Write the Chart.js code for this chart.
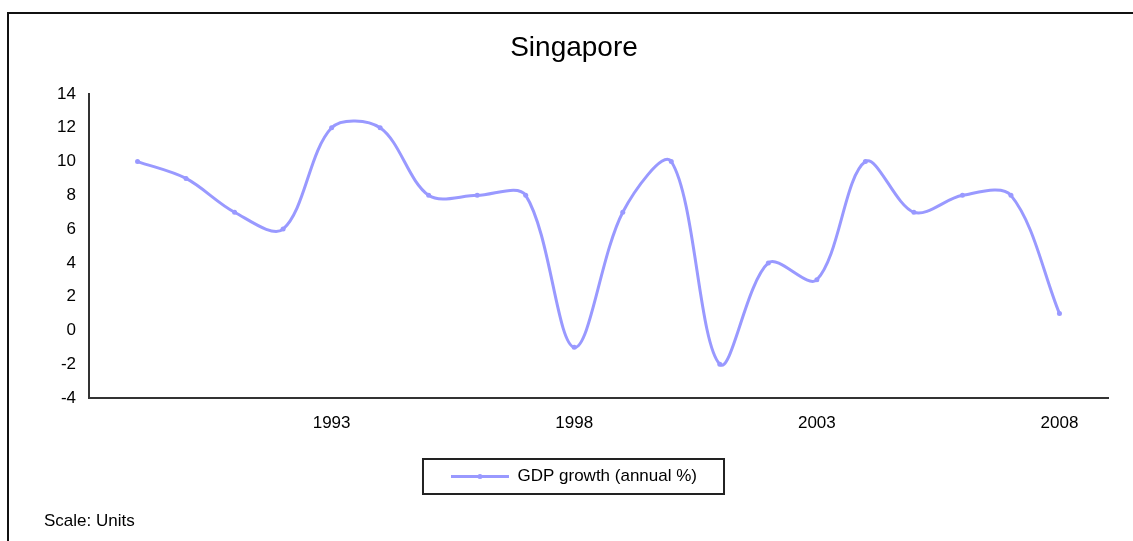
<!DOCTYPE html>
<html>
<head>
<meta charset="utf-8">
<title>Singapore</title>
<script src="https://cdn.jsdelivr.net/npm/chart.js@4.4.1/dist/chart.umd.min.js"></script>
<style>
    body { margin: 0; background: #fff; font-family: "Liberation Sans", Arial, sans-serif; }
    .wrap { position: relative; width: 1133px; height: 541px; overflow: hidden; }
    .frame { position: absolute; left: 7px; top: 12px; right: -10px; bottom: -10px;
             border-left: 2px solid #111; border-top: 2px solid #111; pointer-events: none; }
    .scale-note { position: absolute; left: 44px; top: 511px; font-size: 17px; line-height: 20px; color: #000; }
    canvas { position: absolute; left: 0; top: 0; }
</style>
</head>
<body>
<div class="wrap">
    <canvas id="lineChart" width="1133" height="541"></canvas>
    <div class="frame"></div>
    <div class="scale-note">Scale: Units</div>
</div>
<script>
// Chart data
const years = [1989, 1990, 1991, 1992, 1993, 1994, 1995, 1996, 1997, 1998,
               1999, 2000, 2001, 2002, 2003, 2004, 2005, 2006, 2007, 2008];
const gdpGrowth = [10, 9, 7, 6, 12, 12, 8, 8, 8, -1,
                   7, 10, -2, 4, 3, 10, 7, 8, 8, 1];
const yearTicks = [1993, 1998, 2003, 2008];
const seriesLabel = 'GDP growth (annual %)';

document.addEventListener('DOMContentLoaded', () => {
    const lineColor = '#9999ff';
    const axisColor = '#333';
    const tickFont = { family: '"Liberation Sans", Arial, sans-serif', size: 17 };

    // Box around the legend plus the little marker on its line
    const legendFrame = {
        id: 'legendFrame',
        afterDraw(chart) {
            const legend = chart.legend;
            if (!legend || !legend.legendHitBoxes.length) return;
            const hb = legend.legendHitBoxes[0];
            const ctx = chart.ctx;
            ctx.save();
            ctx.strokeStyle = '#222';
            ctx.lineWidth = 2;
            const left = hb.left - 28;
            const right = hb.left + hb.width + 27;
            ctx.strokeRect(left, legend.top + 1, right - left, legend.bottom - legend.top - 2);
            ctx.fillStyle = lineColor;
            ctx.beginPath();
            ctx.arc(hb.left + 29, hb.top + 8.5, 2.5, 0, Math.PI * 2);
            ctx.fill();
            ctx.restore();
        }
    };

    const ctx = document.getElementById('lineChart').getContext('2d');
    new Chart(ctx, {
        type: 'line',
        data: {
            datasets: [{
                label: seriesLabel,
                data: years.map((yr, i) => ({ x: yr, y: gdpGrowth[i] })),
                borderColor: lineColor,
                backgroundColor: lineColor,
                borderWidth: 3,
                pointRadius: 2.5,
                pointBorderWidth: 0,
                pointBackgroundColor: lineColor,
                tension: 0.33,
                fill: false
            }]
        },
        options: {
            responsive: false,
            animation: false,
            layout: { padding: { left: 40, right: 25, top: 0, bottom: 46 } },
            plugins: {
                tooltip: { enabled: false },
                title: {
                    display: true,
                    text: 'Singapore',
                    color: '#000',
                    font: { family: '"Liberation Sans", Arial, sans-serif', size: 28, weight: 'normal', lineHeight: 1.2 },
                    padding: { top: 31, bottom: 29.4 }
                },
                legend: {
                    position: 'bottom',
                    labels: {
                        usePointStyle: true,
                        pointStyle: 'line',
                        pointStyleWidth: 58,
                        padding: 10,
                        color: '#000',
                        font: tickFont,
                        generateLabels: (chart) => {
                            const items = Chart.defaults.plugins.legend.labels.generateLabels(chart);
                            return items.map((item) => Object.assign(item, {
                                lineWidth: 3,
                                strokeStyle: lineColor,
                                pointStyle: 'line'
                            }));
                        }
                    }
                }
            },
            scales: {
                x: {
                    type: 'linear',
                    min: 1988,
                    max: 2009,
                    grid: { display: false },
                    border: { display: true, color: axisColor, width: 2 },
                    ticks: {
                        color: '#000', font: tickFont, padding: 7, maxRotation: 0,
                        callback: (value) => String(value)
                    },
                    afterBuildTicks: (scale) => {
                        scale.ticks = yearTicks.map((v) => ({ value: v }));
                    },
                    afterFit: (scale) => { scale.height = 60; }
                },
                y: {
                    min: -4,
                    max: 14,
                    grid: { display: false },
                    border: { display: true, color: axisColor, width: 2 },
                    ticks: { stepSize: 2, color: '#000', font: tickFont, padding: 5 },
                    afterFit: (scale) => { scale.width = 49; }
                }
            }
        },
        plugins: [legendFrame]
    });
});
</script>
</body>
</html>
